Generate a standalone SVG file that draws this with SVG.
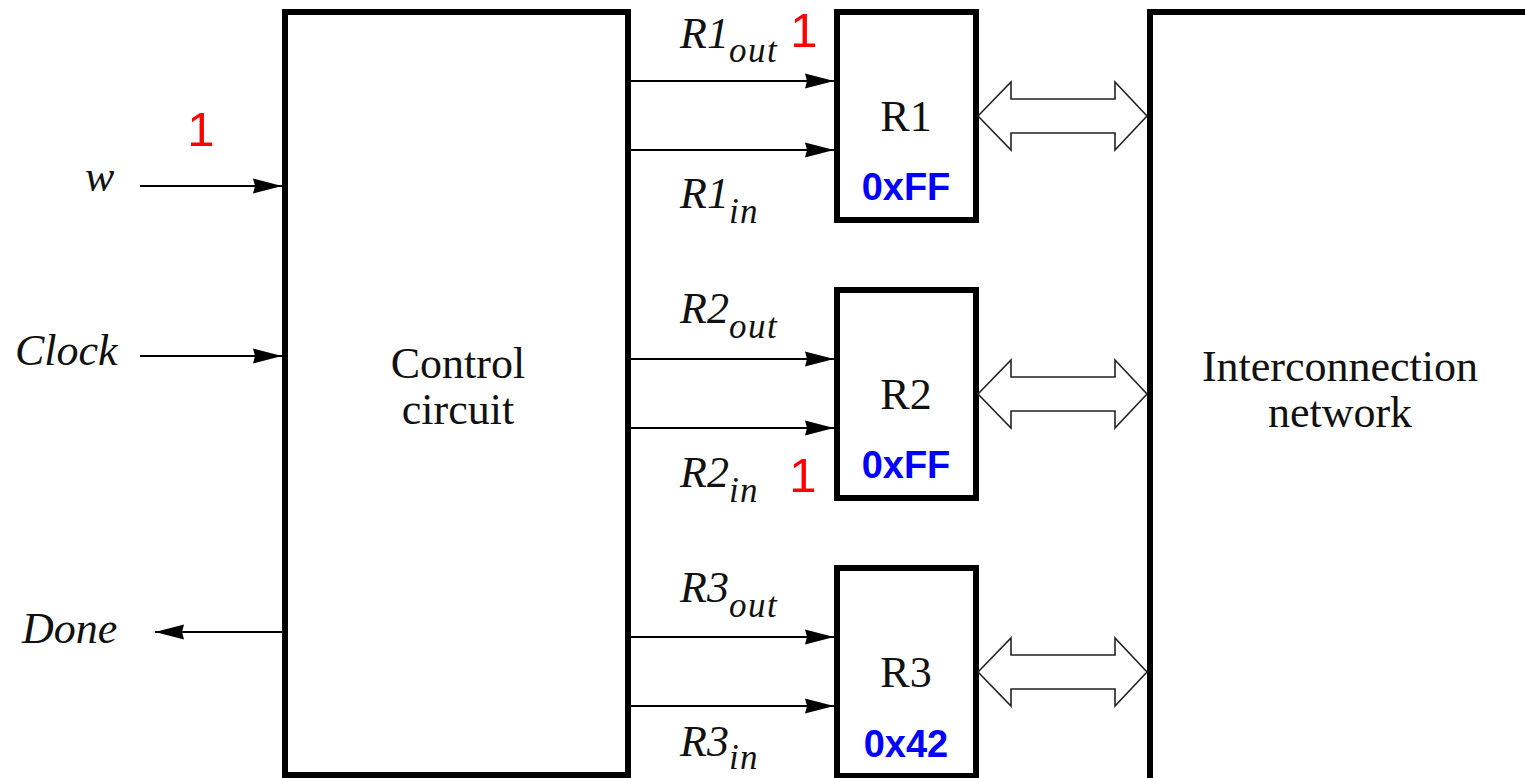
<svg xmlns="http://www.w3.org/2000/svg" width="1525" height="778" viewBox="0 0 1525 778">
<style>
.box{fill:#fff;stroke:#000;stroke-width:6}
.wire{stroke:#000;stroke-width:2;fill:none}
.bus{fill:#fff;stroke:#222;stroke-width:1.6;stroke-linejoin:miter}
.rm{font-family:"Liberation Serif","Times New Roman",serif;font-size:44px;fill:#111}
.it{font-family:"Liberation Serif","Times New Roman",serif;font-size:44px;font-style:italic;fill:#111}
.sub{font-size:35px;letter-spacing:1.5px}
.red{font-family:"Liberation Sans",Arial,sans-serif;font-size:49px;fill:#ff0000}
.val{font-family:"Liberation Sans",Arial,sans-serif;font-size:38px;font-weight:bold;fill:#0000ff}
</style>
<defs>
<marker id="ah" markerUnits="userSpaceOnUse" markerWidth="30" markerHeight="18" viewBox="0 0 30 18" refX="29" refY="9" orient="auto">
<path d="M0,1.5 L29,9 L0,16.5 L2,9 Z" fill="#000"/>
</marker>
</defs>
<rect width="1525" height="778" fill="#fff"/>

<g id="control">
<rect class="box" x="285" y="12" width="343" height="763"/>
<text class="rm" text-anchor="middle"><tspan x="458" y="378">Control</tspan><tspan x="458" y="424">circuit</tspan></text>
</g>

<g id="interconnect">
<rect class="box" x="1150" y="12" width="420" height="820"/>
<text class="rm" text-anchor="middle"><tspan x="1340" y="381">Interconnection</tspan><tspan x="1340" y="427">network</tspan></text>
</g>

<g id="r1">
<rect class="box" x="837" y="12" width="139" height="208"/>
<text class="rm" x="906" y="131" text-anchor="middle">R1</text>
<text class="val" x="906" y="200" text-anchor="middle">0xFF</text>
</g>
<g id="r2">
<rect class="box" x="837" y="290" width="139" height="208"/>
<text class="rm" x="906" y="409" text-anchor="middle">R2</text>
<text class="val" x="906" y="478" text-anchor="middle">0xFF</text>
</g>
<g id="r3">
<rect class="box" x="837" y="568" width="139" height="208"/>
<text class="rm" x="906" y="687" text-anchor="middle">R3</text>
<text class="val" x="906" y="757" text-anchor="middle">0x42</text>
</g>

<g id="connectors">
<line class="wire" x1="140" y1="186" x2="282" y2="186" marker-end="url(#ah)"/>
<line class="wire" x1="140" y1="356" x2="282" y2="356" marker-end="url(#ah)"/>
<line class="wire" x1="283" y1="632" x2="155" y2="632" marker-end="url(#ah)"/>
<line class="wire" x1="625" y1="81" x2="834" y2="81" marker-end="url(#ah)"/>
<line class="wire" x1="625" y1="150" x2="834" y2="150" marker-end="url(#ah)"/>
<line class="wire" x1="625" y1="359" x2="834" y2="359" marker-end="url(#ah)"/>
<line class="wire" x1="625" y1="428" x2="834" y2="428" marker-end="url(#ah)"/>
<line class="wire" x1="625" y1="637" x2="834" y2="637" marker-end="url(#ah)"/>
<line class="wire" x1="625" y1="706" x2="834" y2="706" marker-end="url(#ah)"/>
<polygon class="bus" points="978,116 1011,82 1011,99 1115,99 1115,82 1147,116 1115,150 1115,133 1011,133 1011,150"/>
<polygon class="bus" points="978,394 1011,360 1011,377 1115,377 1115,360 1147,394 1115,428 1115,411 1011,411 1011,428"/>
<polygon class="bus" points="978,672 1011,638 1011,655 1115,655 1115,638 1147,672 1115,706 1115,689 1011,689 1011,706"/>
</g>

<g id="labels">
<text class="it" x="85" y="191">w</text>
<text class="it" x="15" y="365">Clock</text>
<text class="it" x="22" y="643">Done</text>
<text class="it" x="680" y="48">R1<tspan class="sub" dy="14">out</tspan></text>
<text class="it" x="680" y="208">R1<tspan class="sub" dy="15">in</tspan></text>
<text class="it" x="680" y="323">R2<tspan class="sub" dy="15">out</tspan></text>
<text class="it" x="680" y="487">R2<tspan class="sub" dy="15">in</tspan></text>
<text class="it" x="680" y="602">R3<tspan class="sub" dy="15">out</tspan></text>
<text class="it" x="680" y="756">R3<tspan class="sub" dy="13">in</tspan></text>
<text class="red" x="201" y="146" text-anchor="middle">1</text>
<text class="red" x="804" y="47" text-anchor="middle">1</text>
<text class="red" x="803" y="492" text-anchor="middle">1</text>
</g>
</svg>
